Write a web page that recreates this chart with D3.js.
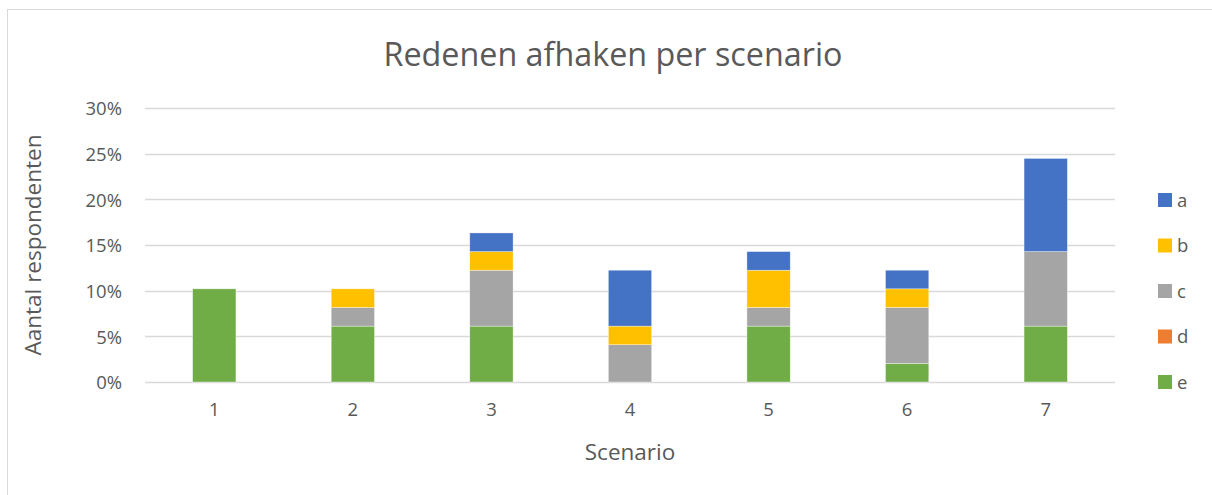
<!DOCTYPE html>
<html>
<head>
<meta charset="utf-8">
<script src="https://cdn.jsdelivr.net/npm/d3@7"></script>
<style>
  html, body { margin: 0; padding: 0; background: #fff; }
  svg { display: block; }
  text { font-family: "Open Sans", "Noto Sans", sans-serif; fill: #595959; }
</style>
</head>
<body>
<svg id="chart" width="1212" height="495"></svg>
<script>
// Scenario categories and the share of respondents per reason (percent)
const scenarios = ["1", "2", "3", "4", "5", "6", "7"];
const seriesNames = ["e", "d", "c", "b", "a"]; // bottom to top in the stack
const valuesA = [0, 0, 2.04, 6.12, 2.04, 2.04, 10.20];
const valuesB = [0, 2.04, 2.04, 2.04, 4.08, 2.04, 0];
const valuesC = [0, 2.04, 6.12, 4.08, 2.04, 6.12, 8.16];
const valuesD = [0, 0, 0, 0, 0, 0, 0];
const valuesE = [10.20, 6.12, 6.12, 0, 6.12, 2.04, 6.12];
const yTicks = [0, 5, 10, 15, 20, 25, 30];
const legendOrder = ["a", "b", "c", "d", "e"];

const colors = { a: "#4472c4", b: "#ffc000", c: "#a5a5a5", d: "#ed7d31", e: "#70ad47" };

const table = scenarios.map((s, i) => ({
  scenario: s,
  a: valuesA[i], b: valuesB[i], c: valuesC[i], d: valuesD[i], e: valuesE[i]
}));

const svg = d3.select("#chart");

// outer chart frame
svg.append("rect")
  .attr("x", 7.5).attr("y", 9.5).attr("width", 1220).attr("height", 500)
  .attr("fill", "none").attr("stroke", "#d9d9d9").attr("stroke-width", 1);

const plot = { left: 145, right: 1115, top: 108, bottom: 382 };

const x = d3.scaleBand().domain(scenarios).range([plot.left, plot.right]).paddingInner(0.6875).paddingOuter(0.34375);
const y = d3.scaleLinear().domain([0, 30]).range([plot.bottom, plot.top]);

// horizontal gridlines
svg.append("g").selectAll("line").data(yTicks).join("line")
  .attr("x1", plot.left).attr("x2", plot.right)
  .attr("y1", d => Math.round(y(d)) + 0.5).attr("y2", d => Math.round(y(d)) + 0.5)
  .attr("stroke", "#d9d9d9").attr("stroke-width", 1.3);

// y-axis labels
const yAxis = d3.axisLeft(y).tickValues(yTicks).tickFormat(d => d + "%").tickSize(0).tickPadding(0);
const gy = svg.append("g").attr("transform", `translate(${plot.left - 23},0)`).call(yAxis);
gy.select(".domain").remove();
gy.selectAll("text").attr("font-size", 18.5).attr("fill", "#595959")
  .style("font-family", '"Open Sans", sans-serif').attr("dy", "0.36em");

// x-axis labels
const xAxis = d3.axisBottom(x).tickSize(0).tickPadding(0);
const gx = svg.append("g").attr("transform", `translate(0,${plot.bottom + 21})`).call(xAxis);
gx.select(".domain").remove();
gx.selectAll("text").attr("font-size", 18.5).attr("fill", "#595959")
  .style("font-family", '"Open Sans", sans-serif').attr("dy", "0.71em");

// stacked bars
const stack = d3.stack().keys(seriesNames);
const layers = stack(table);
svg.append("g").selectAll("g").data(layers).join("g")
  .attr("fill", d => colors[d.key])
  .selectAll("rect").data(d => d.filter(p => p[1] - p[0] > 0)).join("rect")
  .attr("x", d => x(d.data.scenario))
  .attr("width", x.bandwidth())
  .attr("y", d => y(d[1]))
  .attr("height", d => y(d[0]) - y(d[1]))
  .attr("stroke", "#ffffff").attr("stroke-width", 0.6).attr("stroke-opacity", 0.6);

// title
svg.append("text").attr("x", 613).attr("y", 66).attr("text-anchor", "middle")
  .attr("font-size", 32.3).text("Redenen afhaken per scenario");

// axis titles
svg.append("text").attr("x", 630).attr("y", 460).attr("text-anchor", "middle")
  .attr("font-size", 22.5).text("Scenario");
svg.append("text").attr("transform", "translate(41,245) rotate(-90)").attr("text-anchor", "middle")
  .attr("font-size", 22.5).text("Aantal respondenten");

// legend
const legendY = d3.scalePoint().domain(legendOrder).range([200, 382]);
const lg = svg.append("g").selectAll("g").data(legendOrder).join("g")
  .attr("transform", d => `translate(1158,${legendY(d)})`);
lg.append("rect").attr("x", 0).attr("y", -7).attr("width", 14).attr("height", 14)
  .attr("fill", d => colors[d]);
lg.append("text").attr("x", 19).attr("y", 0).attr("dy", "0.36em")
  .attr("font-size", 18.5).text(d => d);
</script>
</body>
</html>
